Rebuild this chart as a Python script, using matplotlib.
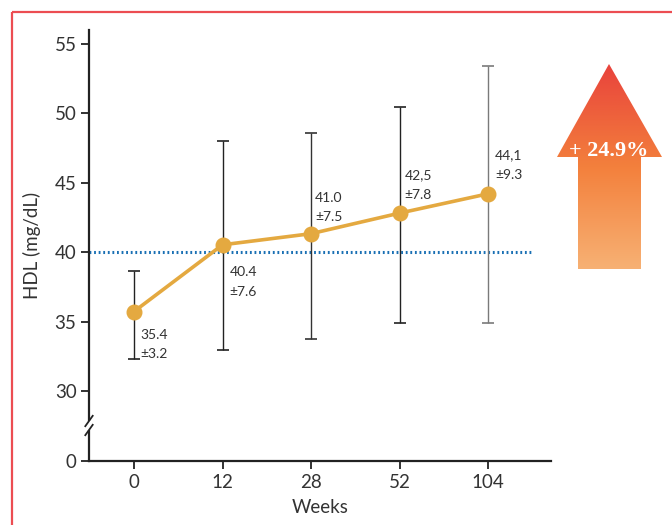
import numpy as np
import matplotlib
matplotlib.use("Agg")
import matplotlib.pyplot as plt
from matplotlib.patches import Polygon, Rectangle
from matplotlib.lines import Line2D
from matplotlib.colors import LinearSegmentedColormap

# ---- data ----
weeks = ["0", "12", "28", "52", "104"]
hdl_mean = [35.75, 40.55, 41.35, 42.83, 44.22]
err_low = [32.35, 32.96, 33.75, 34.95, 34.9]
err_high = [38.63, 48.0, 48.6, 50.43, 53.4]
value_labels = ["35.4\n±3.2", "40.4\n±7.6", "41.0\n±7.5", "42,5\n±7.8", "44,1\n±9.3"]
baseline = 40
yticks = [0, 30, 35, 40, 45, 50, 55]
change_text = "+ 24.9%"

# ---- styles ----
label_offsets_px = [(6, -33), (7, -37), (4, 26), (5, 28), (7, 29)]
err_colors = ["#222222", "#222222", "#333333", "#222222", "#7a7a7a"]
line_color = "#e4a940"
text_color = "#333333"
FONT = "Lato"

W, H = 672, 525
fig = plt.figure(figsize=(W / 100, H / 100), dpi=100)

# background overlay (border + arrow) in pixel coordinates
bg = fig.add_axes([0, 0, 1, 1])
bg.set_xlim(0, W)
bg.set_ylim(H, 0)
bg.axis("off")
bg.add_patch(Rectangle((12, 12), 720, 560, fill=False, edgecolor="#ec4d52", lw=1.6))

arrow_pts = [(609, 64), (662, 157), (641, 157), (641, 269), (578, 269), (578, 157), (557, 157)]
arrow = Polygon(arrow_pts, closed=True, facecolor="none", edgecolor="none")
bg.add_patch(arrow)
cmap = LinearSegmentedColormap.from_list("g", ["#e9433c", "#f3803c", "#f7b174"])
grad = np.linspace(0, 1, 256).reshape(-1, 1)
im = bg.imshow(grad, cmap=cmap, aspect="auto", extent=(557, 662, 269, 64), zorder=1)
im.set_clip_path(arrow)
bg.set_xlim(0, W)
bg.set_ylim(H, 0)
bg.text(609, 151, change_text, color="white", fontsize=16, fontweight="bold",
        family="Liberation Serif", ha="center", va="center", zorder=3)

# main axes
ax = fig.add_axes([89 / W, (H - 461) / H, (551 - 89) / W, (461 - 30) / H])
ax.patch.set_alpha(0)


def fwd(y):
    y = np.asarray(y, dtype=float)
    return np.where(y >= 30, y, 25 + y * 5 / 30)


def inv(z):
    z = np.asarray(z, dtype=float)
    return np.where(z >= 30, z, (z - 25) * 6)


ax.set_yscale("function", functions=(fwd, inv))
ax.set_ylim(0, 56)
x = np.arange(len(weeks))
ax.set_xlim(-0.508, 4.71)

ax.axhline(baseline, xmin=0, xmax=(4.49 + 0.508) / (4.71 + 0.508),
           color="#1a70b4", lw=2.2, ls=(0, (0.6, 0.9)), zorder=2)

for i in range(len(weeks)):
    ax.errorbar(x[i], hdl_mean[i],
                yerr=[[hdl_mean[i] - err_low[i]], [err_high[i] - hdl_mean[i]]],
                fmt="none", ecolor=err_colors[i], elinewidth=1.0, capsize=4, capthick=1.2, zorder=3)

ax.plot(x, hdl_mean, color=line_color, lw=2.6, marker="o", markersize=10.5, zorder=4)

for i, lab in enumerate(value_labels):
    ax.annotate(lab, (x[i], hdl_mean[i]), xytext=label_offsets_px[i], textcoords="offset pixels",
                ha="left", va="center", fontsize=10, family=FONT, color=text_color,
                linespacing=1.75, zorder=5)

ax.set_xticks(x)
ax.set_xticklabels(weeks)
ax.set_yticks(yticks)
ax.set_yticklabels([str(t) for t in yticks])
ax.minorticks_off()
for s in ["top", "right"]:
    ax.spines[s].set_visible(False)
for s in ["left", "bottom"]:
    ax.spines[s].set_linewidth(1.6)
    ax.spines[s].set_color("#222222")
ax.tick_params(axis="both", direction="out", length=6, width=1.3, color="#222222",
               labelsize=13.5, labelcolor=text_color, pad=3)
for lab in ax.get_xticklabels() + ax.get_yticklabels():
    lab.set_family(FONT)
ax.set_xlabel("Weeks", fontsize=13.5, family=FONT, color=text_color, labelpad=6)
ax.set_ylabel("HDL (mg/dL)", fontsize=13.5, family=FONT, color=text_color, labelpad=10)

# axis break marks
y1 = (461 - 421) / 431
y2 = (461 - 430) / 431
ax.add_patch(Rectangle((-0.02, y2), 0.04, y1 - y2, transform=ax.transAxes,
                       facecolor="white", edgecolor="none", clip_on=False, zorder=6))
for yy in (y1, y2):
    ax.add_line(Line2D([-0.008, 0.008], [yy - 0.012, yy + 0.012], transform=ax.transAxes,
                       color="#222222", lw=1.3, clip_on=False, zorder=7))

fig.savefig("out.png", dpi=100)
